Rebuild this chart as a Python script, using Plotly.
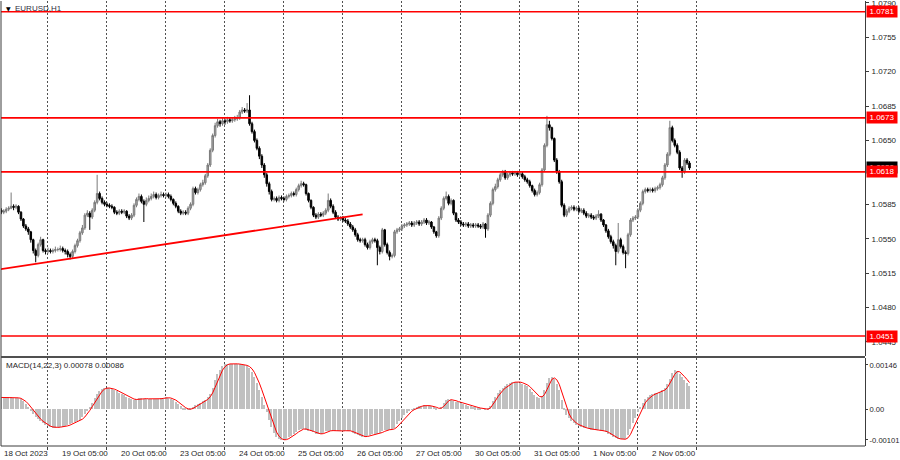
import plotly.graph_objects as go

# ---------------- data (prices in pips above 1.0500) ----------------
first_open_pips = 79
close_pips = [
77,78,80,81,83,82,83,77,70,63,
60,57,49,38,33,44,49,38,37,38,
37,38,39,39,40,38,37,34,32,37,
43,48,56,61,74,76,72,79,87,96,
91,87,85,84,83,82,77,76,78,77,
78,73,71,74,84,90,93,88,85,89,
91,93,95,92,94,95,94,95,93,90,
86,83,78,76,77,76,81,85,101,97,
100,105,107,114,125,140,155,165,169,167,
170,169,171,170,171,172,173,179,181,180,
181,167,159,150,142,134,125,115,106,98,
90,91,89,92,91,90,93,94,96,95,
100,104,106,105,96,89,82,74,72,75,
74,76,79,89,83,77,72,70,71,69,
68,65,62,59,54,49,48,49,44,41,
47,49,48,41,37,59,44,36,32,33,
57,59,60,63,64,65,66,64,66,67,
65,67,69,66,67,62,57,53,71,81,
91,93,86,89,76,69,67,65,64,65,
63,64,63,64,63,62,65,60,74,86,
100,103,110,115,118,112,115,117,116,117,
115,116,113,110,108,104,99,95,97,105,
120,145,166,163,152,130,118,108,84,74,
78,81,82,80,81,78,79,76,73,74,
72,71,73,75,69,64,58,52,47,43,
37,49,42,36,35,54,69,71,72,79,
86,98,100,99,100,99,101,102,105,112,
125,136,163,150,145,138,122,118,130,127,
122]
high_pips = [
81,80,82,83,97,85,85,84,78,71,
65,62,58,50,40,46,52,50,40,41,
40,40,42,41,43,42,40,39,36,39,
45,50,58,64,76,79,78,81,89,115,
98,93,89,87,86,85,83,79,80,80,
80,79,75,76,86,92,96,95,90,92,
94,96,98,97,96,98,97,97,97,95,
91,88,84,80,79,79,83,87,103,103,
102,107,110,116,127,142,157,168,172,171,
173,172,174,173,173,175,176,181,184,183,
188,196,169,161,152,144,136,127,117,108,
100,93,93,94,94,93,95,96,98,98,
102,106,109,108,106,97,90,83,76,77,
77,78,81,96,91,85,79,74,73,73,
71,70,67,64,61,56,51,51,51,46,
49,51,51,50,43,61,60,46,38,35,
59,61,62,65,66,67,68,68,68,69,
69,69,71,71,69,68,63,58,73,83,
93,98,95,91,90,77,71,69,67,67,
67,66,66,66,66,65,67,66,76,88,
102,106,112,117,120,120,117,119,119,119,
119,118,118,115,112,110,105,101,99,107,
122,147,175,170,164,153,132,120,110,86,
80,83,84,84,83,83,81,81,78,76,
76,74,75,79,76,70,65,60,54,49,
45,66,51,44,38,56,71,73,74,81,
88,100,102,102,102,102,103,104,107,114,
127,138,170,165,152,147,140,124,132,132,
129]
low_pips = [
75,75,76,78,80,79,80,75,68,61,
58,54,46,35,26,31,42,36,34,35,
35,35,36,37,37,36,34,31,29,30,
35,41,46,54,59,72,59,70,77,85,
89,85,83,82,81,80,75,74,74,75,
75,71,69,69,72,82,88,86,67,83,
87,89,91,90,90,92,92,92,91,88,
84,81,76,74,74,74,74,79,83,95,
95,98,103,105,112,123,138,153,163,164,
165,166,167,168,168,169,170,171,177,178,
178,165,157,148,140,131,122,112,103,95,
88,88,87,87,89,88,88,91,92,93,
93,98,102,103,94,87,80,72,70,70,
72,72,74,77,81,75,70,68,68,67,
66,63,60,57,52,47,46,46,42,39,
39,45,46,23,34,35,42,34,28,30,
31,55,57,58,61,62,63,62,62,64,
63,63,65,64,64,60,55,51,51,69,
79,89,84,84,74,67,65,63,62,62,
61,61,61,61,61,60,60,51,58,72,
84,98,101,108,113,110,110,113,114,114,
113,113,111,108,106,102,97,93,93,95,
103,118,143,160,150,128,116,106,82,72,
72,76,79,78,78,76,76,74,71,71,
70,69,69,71,67,62,56,50,45,40,
23,35,40,34,20,33,52,67,69,70,
77,84,96,97,97,97,97,99,100,103,
110,123,134,148,143,136,120,112,116,125,
120]
# MACD main line (histogram), units of 1e-5
macd_e5 = [
39,39,39,39,39,38,38,37,33,27,
18,8,-3,-14,-24,-33,-40,-46,-52,-56,
-59,-60,-60,-59,-58,-57,-55,-52,-49,-45,
-42,-38,-34,-26,-16,-4,8,22,36,50,
60,68,71,70,69,67,63,59,55,51,
46,42,37,33,31,33,36,36,35,34,
34,34,35,34,34,36,38,39,37,35,
31,25,17,10,5,1,-2,2,8,13,
18,22,26,31,40,52,70,95,115,130,
142,148,150,150,150,150,149,148,147,145,
142,135,123,106,87,65,40,15,-10,-35,
-58,-78,-90,-98,-102,-101,-97,-92,-87,-81,
-74,-68,-64,-64,-67,-70,-72,-76,-80,-82,
-81,-78,-73,-70,-70,-71,-72,-72,-71,-71,
-70,-70,-73,-77,-81,-85,-89,-91,-90,-88,
-85,-82,-81,-80,-78,-72,-68,-67,-67,-66,
-60,-50,-40,-30,-20,-12,-6,-1,3,7,
10,12,13,12,11,10,7,3,0,8,
20,30,33,32,28,25,23,20,17,14,
12,10,8,6,4,2,0,-1,2,12,
28,42,53,62,70,76,82,87,90,91,
90,88,85,81,76,68,58,48,40,38,
45,62,86,103,107,100,85,62,30,3,
-18,-30,-40,-46,-51,-55,-58,-61,-63,-65,
-67,-68,-69,-69,-70,-72,-75,-80,-86,-92,
-96,-98,-99,-99,-98,-85,-65,-45,-30,-10,
8,22,33,40,46,50,53,55,58,62,
70,82,100,118,128,127,116,108,98,88,
78]

levels = [1.0781, 1.0673, 1.0618, 1.0451]
bid_price = 1.0620
trend_x = [-0.53, 147.0]
trend_y = [1.05189, 1.05748]
price_ticks = [1.0790, 1.0755, 1.0720, 1.0685, 1.0650, 1.0585, 1.0550, 1.0515, 1.0480, 1.0445]
macd_ticks = [0.00146, 0.0, -0.00101]
macd_ticktext = ["0.00146", "0.00", "-0.00101"]
grid_idx = [19 + 24 * k for k in range(12)]
time_labels = ["19 Oct 05:00", "20 Oct 05:00", "23 Oct 05:00", "24 Oct 05:00",
               "25 Oct 05:00", "26 Oct 05:00", "27 Oct 05:00", "30 Oct 05:00",
               "31 Oct 05:00", "1 Nov 05:00", "2 Nov 05:00"]
first_label = "18 Oct 2023"
title_text = "EURUSD,H1"
macd_text = "MACD(14,22,3) 0.00078 0.00086"

# ---------------- build ----------------
n = min(len(close_pips), len(high_pips), len(low_pips))
idx = list(range(n))
base = 1.05
close = [base + v / 10000 for v in close_pips[:n]]
high = [base + v / 10000 for v in high_pips[:n]]
low = [base + v / 10000 for v in low_pips[:n]]
opn = [base + first_open_pips / 10000] + close[:-1]
macd = [v * 1e-5 for v in macd_e5]
signal = []
for i in range(len(macd)):
    w = macd[max(0, i - 2): i + 1]
    signal.append(sum(w) / len(w))
midx = list(range(len(macd)))

FONT = "Liberation Sans"
TXT = "#1e1e1e"
AX = "#3c3c3c"

fig = go.Figure()
fig.add_trace(go.Candlestick(
    x=idx, open=opn, high=high, low=low, close=close, xaxis="x", yaxis="y",
    increasing=dict(line=dict(color="#7a7a7a", width=1), fillcolor="#a8a8a8"),
    decreasing=dict(line=dict(color="#000000", width=1), fillcolor="#000000"),
    whiskerwidth=0, showlegend=False, hoverinfo="skip"))
fig.add_trace(go.Scatter(x=trend_x, y=trend_y, xaxis="x", yaxis="y", mode="lines",
                         line=dict(color="#ff0000", width=1.8), showlegend=False, hoverinfo="skip"))
fig.add_trace(go.Bar(x=midx, y=macd, xaxis="x2", yaxis="y2", width=0.55,
                     marker=dict(color="#c0c0c0", line=dict(width=0)), showlegend=False, hoverinfo="skip"))
fig.add_trace(go.Scatter(x=midx, y=signal, xaxis="x2", yaxis="y2", mode="lines",
                         line=dict(color="#ff0000", width=1), showlegend=False, hoverinfo="skip"))

xr = [-0.12, 351.4]
main_dom = [0.2022, 1.0]
macd_dom = [0.0, 0.1978]
xcommon = dict(range=xr, tickvals=grid_idx, showticklabels=False, showgrid=True, automargin=False,
               gridcolor="#505050", griddash="2px,2px", gridwidth=1, zeroline=False, fixedrange=True)
fig.update_layout(
    width=900, height=460, margin=dict(l=1, r=35, t=1, b=14, autoexpand=False),
    paper_bgcolor="white", plot_bgcolor="white", bargap=0, boxgap=0.1,
    xaxis=dict(domain=[0, 1], anchor="y", ticks="", rangeslider=dict(visible=False), **xcommon),
    xaxis2=dict(domain=[0, 1], anchor="y2", matches="x", ticks="outside", ticklen=3,
                tickcolor=AX, **xcommon),
    yaxis=dict(domain=main_dom, range=[1.043064, 1.079189], side="right", tickvals=price_ticks,
               tickformat=".4f", ticks="outside", ticklen=3, tickcolor=AX, showgrid=False,
               zeroline=False, showline=True, linecolor=AX, linewidth=1, ticklabelstandoff=1,
               ticklabeloverflow="allow", automargin=False,
               tickfont=dict(family=FONT, size=8, color=TXT)),
    yaxis2=dict(domain=macd_dom, range=[-0.00121, 0.00169], side="right", tickvals=macd_ticks,
                ticktext=macd_ticktext, ticks="outside", ticklen=2, tickcolor=AX, showgrid=False,
                zeroline=False, showline=True, linecolor=AX, linewidth=1, ticklabelstandoff=0,
                ticklabeloverflow="allow", automargin=False,
                tickfont=dict(family=FONT, size=7.6, color=TXT)),
    font=dict(family=FONT, size=8, color=TXT),
)

shapes = []
for lv in levels:
    shapes.append(dict(type="line", xref="paper", yref="y", x0=0, x1=1, y0=lv, y1=lv,
                       line=dict(color="#ff0000", width=1.6)))
# frame: left, bottom, separator
shapes.append(dict(type="line", xref="paper", yref="paper", x0=0, x1=0, y0=0, y1=1,
                   line=dict(color=AX, width=1)))
shapes.append(dict(type="line", xref="paper", yref="paper", x0=0, x1=1, y0=0, y1=0,
                   line=dict(color=AX, width=1)))
shapes.append(dict(type="line", xref="paper", yref="paper", x0=0, x1=1.0, y0=0.2, y1=0.2,
                   line=dict(color="#505050", width=2)))
fig.update_layout(shapes=shapes)

ann = []
# current bid label (behind the level label)
ann.append(dict(xref="paper", yref="y", x=1, y=bid_price, xanchor="left", yanchor="middle",
                xshift=1, yshift=2, text="%.4f" % bid_price, showarrow=False, bgcolor="#000000",
                width=28, height=9, borderpad=1, font=dict(family=FONT, size=8, color="white")))
for lv in levels:
    ann.append(dict(xref="paper", yref="y", x=1, y=lv, xanchor="left", yanchor="middle",
                    xshift=1, text="%.4f" % lv, showarrow=False, bgcolor="#ff0000",
                    width=28, height=9, borderpad=1, font=dict(family=FONT, size=8, color="white")))
ann.append(dict(xref="paper", yref="paper", x=0, y=1, xanchor="left", yanchor="top",
                xshift=3, yshift=-2, text="▼", showarrow=False,
                font=dict(family="DejaVu Sans", size=6, color="#000000")))
ann.append(dict(xref="paper", yref="paper", x=0, y=1, xanchor="left", yanchor="top",
                xshift=12, yshift=-1, text=title_text, showarrow=False,
                font=dict(family=FONT, size=8, color="#303040")))
ann.append(dict(xref="paper", yref="paper", x=0, y=0.182, xanchor="left", yanchor="middle",
                xshift=3, text=macd_text, showarrow=False,
                font=dict(family=FONT, size=8, color=TXT)))
ann.append(dict(xref="x2", yref="paper", x=xr[0], y=0, xanchor="left", yanchor="top",
                xshift=1, yshift=-1, text=first_label, showarrow=False,
                font=dict(family=FONT, size=8, color=TXT)))
for g, t in zip(grid_idx, time_labels):
    ann.append(dict(xref="x2", yref="paper", x=g + 4.9, y=0, xanchor="left", yanchor="top",
                    yshift=-1, text=t, showarrow=False,
                    font=dict(family=FONT, size=8, color=TXT)))
fig.update_layout(annotations=ann)

fig.write_html("out.html", config={"displayModeBar": False},
               post_script="document.body.style.margin='0px';document.body.style.padding='0px';")
